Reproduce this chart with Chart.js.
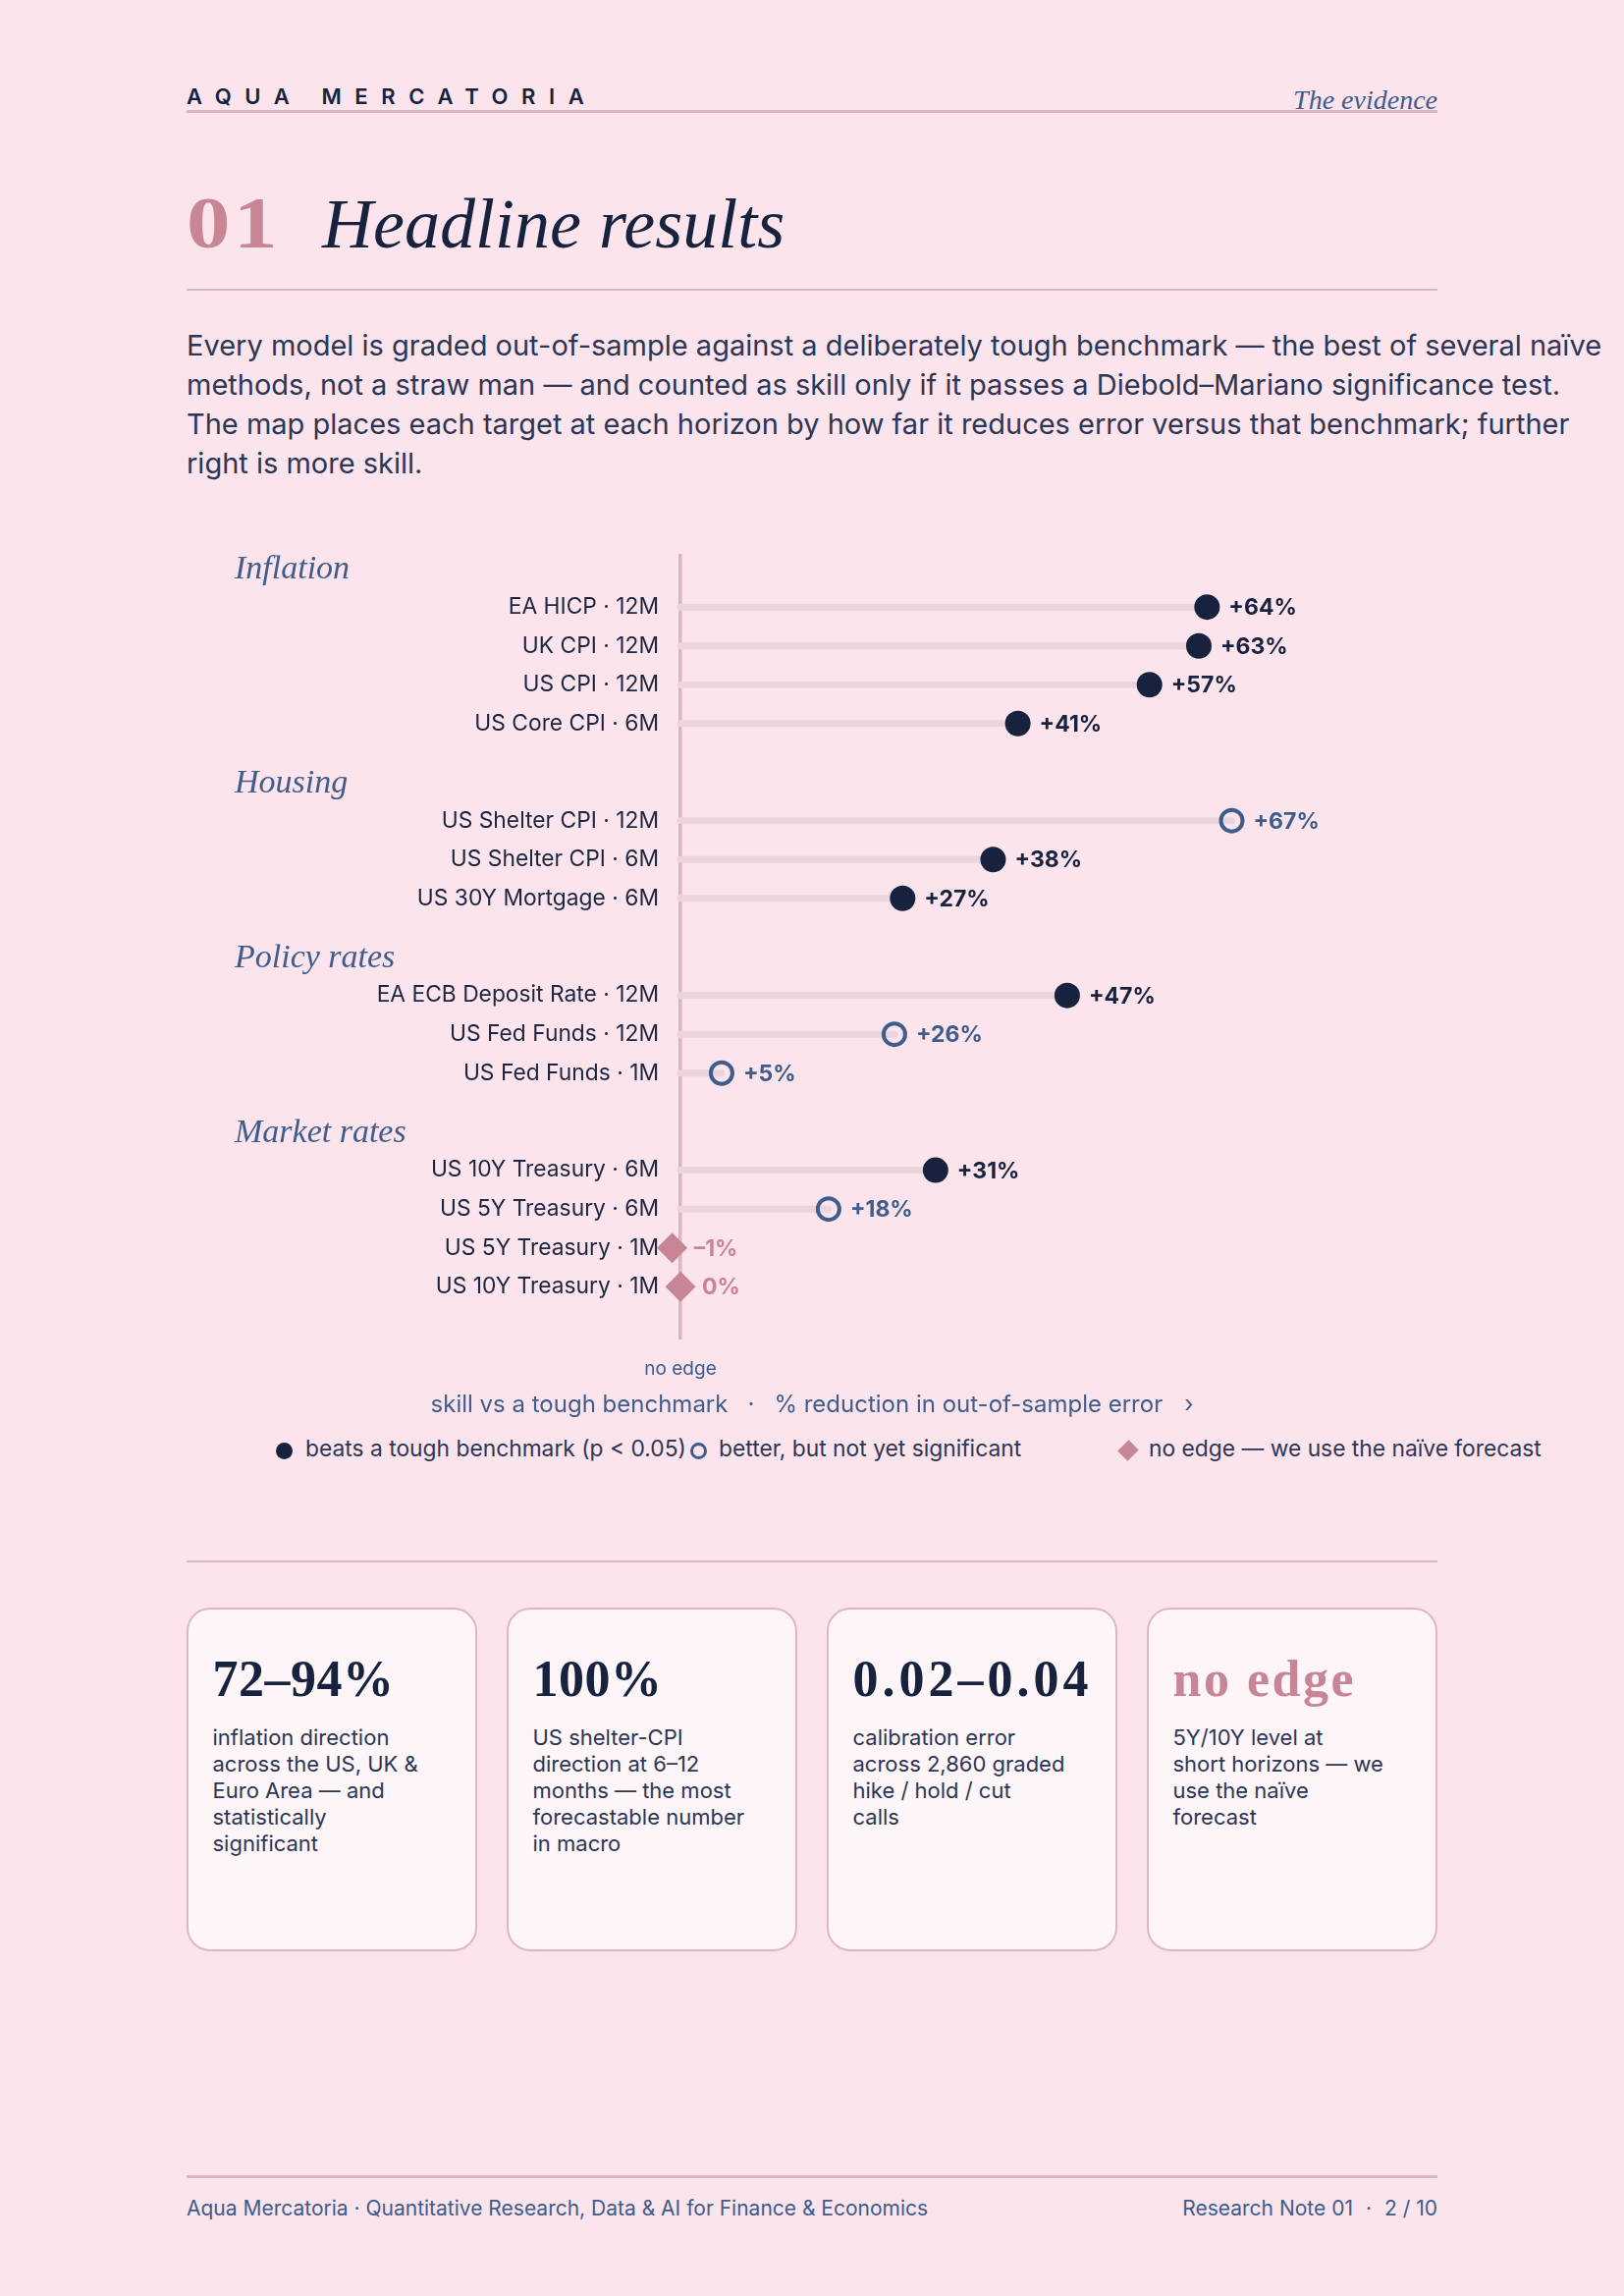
<!DOCTYPE html>
<html>
<head>
<meta charset="utf-8">
<script src="https://cdn.jsdelivr.net/npm/chart.js@4.4.1/dist/chart.umd.min.js"></script>
<style>
  html, body { margin: 0; padding: 0; }
  body { width: 1654px; height: 2338px; background: #fbe4eb; position: relative; overflow: hidden; font-family: Inter, sans-serif; color: #2c3656; }
  .abs { position: absolute; white-space: nowrap; line-height: 1; }
  .rule { position: absolute; left: 190px; width: 1274px; background: #dcb5c3; }
  .brand { left: 190px; top: 87px; font-size: 22px; font-weight: 600; letter-spacing: 13.6px; color: #17223f; }
  .kicker { right: 190px; top: 88px; font-family: "Liberation Serif", serif; font-style: italic; font-size: 28px; color: #3e5c8c; }
  .num { left: 190px; top: 190px; font-family: "Liberation Serif", serif; font-weight: bold; font-size: 74px; color: #c88596; letter-spacing: 3px; transform: scaleX(1.2); transform-origin: left top; }
  .title { left: 328px; top: 192px; font-family: "Liberation Serif", serif; font-style: italic; font-size: 72px; color: #17223f; }
  .lede { position: absolute; left: 190px; top: 332px; font-size: 29px; line-height: 40px; white-space: nowrap; color: #2c3656; }
  #chartWrap { position: absolute; left: 190px; top: 540px; width: 1274px; height: 880px; }
  .axis-title { left: 0; width: 1654px; top: 1418px; text-align: center; font-size: 24px; color: #3e5c8c; }
  .axis-title .sep { margin: 0 20px; }
  .lg-text { top: 1463.5px; font-size: 22.8px; color: #2c3656; }
  .mk { position: absolute; box-sizing: border-box; }
  .card { position: absolute; top: 1637px; width: 296px; height: 350px; box-sizing: border-box; border: 2.5px solid #dfb6c4; border-radius: 24px; background: #fdf5f8; }
  .card .big { position: absolute; left: 24.5px; top: 45px; line-height: 1; white-space: nowrap; font-family: "Liberation Serif", serif; font-weight: bold; font-size: 52px; color: #17223f; letter-spacing: 0.5px; }
  .card .txt { position: absolute; left: 24.5px; top: 117px; font-size: 22px; line-height: 27px; color: #2c3656; white-space: nowrap; }
  .foot { top: 2237.6px; font-size: 21px; color: #3e5c8c; }
</style>
</head>
<body>
  <div class="abs brand">AQUA MERCATORIA</div>
  <div class="abs kicker">The evidence</div>
  <div class="rule" style="top:112px;height:3px;"></div>

  <div class="abs num">01</div>
  <div class="abs title">Headline results</div>
  <div class="rule" style="top:294px;height:2px;"></div>

  <div class="lede">Every model is graded out-of-sample against a deliberately tough benchmark — the best of several naïve<br>methods, not a straw man — and counted as skill only if it passes a Diebold–Mariano significance test.<br>The map places each target at each horizon by how far it reduces error versus that benchmark; further<br>right is more skill.</div>

  <div id="chartWrap"><canvas id="skillChart" width="1274" height="880"></canvas></div>

  <div class="abs axis-title">skill vs a tough benchmark<span class="sep">·</span>% reduction in out-of-sample error<span class="sep" style="margin-left:22px;margin-right:0">›</span></div>

  <div class="mk" style="left:280.5px;top:1468.5px;width:17px;height:17px;border-radius:50%;background:#17223f;"></div>
  <div class="abs lg-text" style="left:311px;">beats a tough benchmark (p &lt; 0.05)</div>
  <div class="mk" style="left:702.5px;top:1468.5px;width:17px;height:17px;border-radius:50%;border:3.5px solid #3e5c8c;"></div>
  <div class="abs lg-text" style="left:732px;">better, but not yet significant</div>
  <div class="mk" style="left:1141px;top:1469px;width:16px;height:16px;background:#c88596;transform:rotate(45deg) scaleX(0.9);"></div>
  <div class="abs lg-text" style="left:1170px;">no edge — we use the naïve forecast</div>

  <div class="rule" style="top:1589px;height:2px;"></div>

  <div class="card" style="left:190px;">
    <div class="big">72–94%</div>
    <div class="txt">inflation direction<br>across the US, UK &amp;<br>Euro Area — and<br>statistically<br>significant</div>
  </div>
  <div class="card" style="left:516px;">
    <div class="big">100%</div>
    <div class="txt">US shelter-CPI<br>direction at 6–12<br>months — the most<br>forecastable number<br>in macro</div>
  </div>
  <div class="card" style="left:842px;">
    <div class="big" style="letter-spacing:4px;">0.02–0.04</div>
    <div class="txt">calibration error<br>across 2,860 graded<br>hike / hold / cut<br>calls</div>
  </div>
  <div class="card" style="left:1168px;">
    <div class="big" style="color:#c88596;letter-spacing:2.5px;">no edge</div>
    <div class="txt">5Y/10Y level at<br>short horizons — we<br>use the naïve<br>forecast</div>
  </div>

  <div class="rule" style="top:2215px;height:3px;"></div>
  <div class="abs foot" style="left:190px;">Aqua Mercatoria · Quantitative Research, Data &amp; AI for Finance &amp; Economics</div>
  <div class="abs foot" style="right:190px;">Research Note 01<span style="margin:0 13px;">·</span>2 / 10</div>

<script>
const groupNames = ['Inflation', 'Housing', 'Policy rates', 'Market rates'];
const rowLabels = [
    'EA HICP · 12M', 'UK CPI · 12M', 'US CPI · 12M', 'US Core CPI · 6M',
    'US Shelter CPI · 12M', 'US Shelter CPI · 6M', 'US 30Y Mortgage · 6M',
    'EA ECB Deposit Rate · 12M', 'US Fed Funds · 12M', 'US Fed Funds · 1M',
    'US 10Y Treasury · 6M', 'US 5Y Treasury · 6M', 'US 5Y Treasury · 1M', 'US 10Y Treasury · 1M'
];
const rowGroup = [0, 0, 0, 0, 1, 1, 1, 2, 2, 2, 3, 3, 3, 3];
const skill = [64, 63, 57, 41, 67, 38, 27, 47, 26, 5, 31, 18, -1, 0];
const verdict = ['sig', 'sig', 'sig', 'sig', 'open', 'sig', 'sig', 'sig', 'open', 'open', 'sig', 'open', 'none', 'none'];

const NAVY = '#17223f';
const BLUE = '#3e5c8c';
const PINK = '#c88596';

// each group gets an extra 1.5 rows of space for its heading
const rowPos = rowLabels.map((_, i) => i + rowGroup[i] * 1.5);

function pointsFor(kind) {
    const out = [];
    skill.forEach((v, i) => {
        if (verdict[i] === kind) out.push({ x: v, y: rowPos[i] });
    });
    return out;
}

// stems: 0 -> value on each row, broken by a null gap
const stemData = [];
skill.forEach((v, i) => {
    stemData.push({ x: 0, y: rowPos[i] });
    stemData.push({ x: v, y: rowPos[i] });
    stemData.push({ x: 0, y: null });
});

function fmtPct(v) {
    if (v > 0) return '+' + v + '%';
    if (v < 0) return '–' + Math.abs(v) + '%';
    return '0%';
}

const groupHeads = {
    id: 'groupHeads',
    afterDraw(chart) {
        const ctx = chart.ctx;
        const y = chart.scales.y;
        ctx.save();
        ctx.font = 'italic 34px "Liberation Serif", serif';
        ctx.fillStyle = BLUE;
        ctx.textAlign = 'left';
        ctx.textBaseline = 'alphabetic';
        groupNames.forEach((name, g) => {
            const first = rowGroup.indexOf(g);
            ctx.fillText(name, 49, y.getPixelForValue(rowPos[first] - 0.73));
        });
        ctx.restore();
    }
};

const valueLabels = {
    id: 'valueLabels',
    afterDatasetsDraw(chart) {
        const ctx = chart.ctx;
        ctx.save();
        ctx.font = 'bold 23px Inter, sans-serif';
        ctx.textAlign = 'left';
        ctx.textBaseline = 'middle';
        chart.data.datasets.forEach((ds, di) => {
            if (!ds.labelColor) return;
            const meta = chart.getDatasetMeta(di);
            ctx.fillStyle = ds.labelColor;
            meta.data.forEach((el, k) => {
                ctx.fillText(fmtPct(ds.data[k].x), el.x + 22, el.y + 1);
            });
        });
        ctx.restore();
    }
};

document.addEventListener('DOMContentLoaded', function () {
    Chart.defaults.font.family = 'Inter, sans-serif';
    const ctx = document.getElementById('skillChart').getContext('2d');

    new Chart(ctx, {
        type: 'scatter',
        data: {
            datasets: [
                {
                    label: 'beats a tough benchmark (p < 0.05)',
                    data: pointsFor('sig'),
                    pointStyle: 'circle',
                    pointRadius: 13,
                    backgroundColor: NAVY,
                    borderWidth: 0,
                    labelColor: NAVY,
                    clip: false,
                    order: 0
                },
                {
                    label: 'better, but not yet significant',
                    data: pointsFor('open'),
                    pointStyle: 'circle',
                    pointRadius: 11,
                    backgroundColor: 'rgba(0,0,0,0)',
                    borderColor: BLUE,
                    borderWidth: 4,
                    labelColor: BLUE,
                    clip: false,
                    order: 0
                },
                {
                    label: 'no edge — we use the naïve forecast',
                    data: pointsFor('none'),
                    pointStyle: 'rectRot',
                    pointRadius: 15.5,
                    backgroundColor: PINK,
                    borderWidth: 0,
                    labelColor: PINK,
                    clip: false,
                    order: 0
                },
                {
                    type: 'line',
                    label: 'stems',
                    data: stemData,
                    borderColor: '#ecd4dc',
                    borderWidth: 7,
                    borderCapStyle: 'round',
                    pointRadius: 0,
                    spanGaps: false,
                    clip: false,
                    order: 2
                }
            ]
        },
        options: {
            responsive: false,
            animation: false,
            events: [],
            devicePixelRatio: 1,
            layout: { autoPadding: false, padding: { top: 24, left: 0, right: 0, bottom: 0 } },
            plugins: {
                legend: { display: false },
                tooltip: { enabled: false }
            },
            scales: {
                x: {
                    type: 'linear',
                    min: -2.2,
                    max: 92,
                    afterBuildTicks: (scale) => { scale.ticks = [{ value: 0 }]; },
                    afterFit: (scale) => {
                        scale.height = 56;
                        scale.paddingLeft = 0;
                        scale.paddingRight = 0;
                    },
                    ticks: {
                        callback: () => 'no edge',
                        color: BLUE,
                        font: { size: 19 },
                        padding: 19,
                        maxRotation: 0
                    },
                    grid: { color: '#dcb5c3', lineWidth: 3.5, drawTicks: false },
                    border: { display: false }
                },
                y: {
                    type: 'linear',
                    reverse: true,
                    min: -1.37,
                    max: 18.86,
                    afterBuildTicks: (scale) => { scale.ticks = rowPos.map(v => ({ value: v })); },
                    afterFit: (scale) => {
                        scale.width = 484.6;
                        scale.paddingTop = 0;
                        scale.paddingBottom = 0;
                    },
                    ticks: {
                        autoSkip: false,
                        callback: (value, index) => rowLabels[index],
                        color: '#1c2541',
                        font: { size: 22.8 },
                        padding: 3.6
                    },
                    grid: { display: false, drawTicks: false },
                    border: { display: false }
                }
            }
        },
        plugins: [groupHeads, valueLabels]
    });
});
</script>
</body>
</html>
